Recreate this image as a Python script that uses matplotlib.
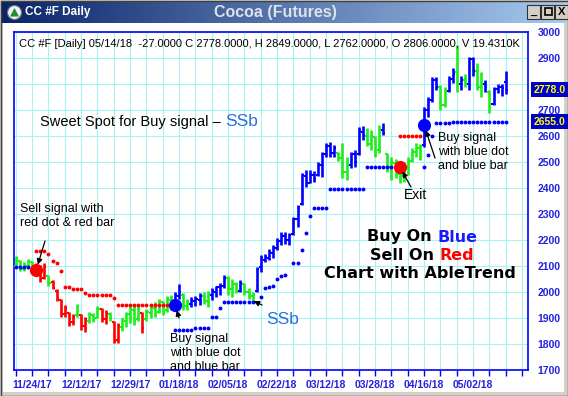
import numpy as np
import matplotlib.pyplot as plt
from matplotlib import transforms
from matplotlib.patches import Rectangle, Circle, Polygon

plt.rcParams['font.family'] = ['Liberation Sans', 'DejaVu Sans']

# daily bars, 11/17/17 .. 05/14/18 (one entry per trading day)
high = [2140, 2125, 2115, 2128, 2120, 2110, 2105, 2110, 2065, 2045,
        2010, 1975, 1950, 1925, 1915, 1955, 1915, 1905, 1925, 1920,
        1945, 1940, 1930, 1925, 1890, 1882, 1900, 1925, 1955, 1945,
        1950, 1925, 1935, 1950, 1960, 1975, 1965, 1985, 1990, 2000,
        2030, 1995, 1975, 1980, 1985, 1995, 2000, 2005, 2015, 2025,
        2035, 2065, 2060, 2050, 2040, 2045, 2035, 2015, 2000, 2097,
        2142, 2145, 2165, 2180, 2208, 2230, 2232, 2228, 2290, 2335,
        2457, 2469, 2469, 2465, 2500, 2540, 2572, 2578, 2565, 2540,
        2572, 2520, 2540, 2545, 2636, 2640, 2630, 2623, 2600, 2642,
        2650, 2535, 2520, 2510, 2500, 2495, 2520, 2555, 2573, 2570,
        2713, 2751, 2828, 2828, 2796, 2790, 2830, 2862, 2950, 2830,
        2840, 2905, 2905, 2880, 2847, 2815, 2777, 2790, 2800, 2800,
        2849]
low = [2095, 2080, 2082, 2090, 2085, 2065, 2040, 2050, 2025, 2010,
       1965, 1905, 1905, 1868, 1872, 1905, 1855, 1848, 1880, 1885,
       1900, 1885, 1878, 1890, 1805, 1805, 1850, 1865, 1880, 1875,
       1890, 1842, 1890, 1900, 1905, 1920, 1910, 1925, 1930, 1938,
       1975, 1930, 1930, 1944, 1945, 1950, 1955, 1944, 1970, 1980,
       1990, 2014, 1990, 1982, 1995, 2000, 1990, 1975, 1965, 2000,
       2078, 2115, 2125, 2130, 2160, 2180, 2185, 2182, 2220, 2251,
       2335, 2405, 2420, 2424, 2445, 2443, 2520, 2520, 2520, 2505,
       2437, 2431, 2476, 2480, 2527, 2585, 2560, 2546, 2520, 2535,
       2604, 2460, 2431, 2440, 2418, 2425, 2450, 2500, 2520, 2508,
       2559, 2674, 2732, 2777, 2700, 2710, 2770, 2804, 2770, 2777,
       2790, 2777, 2830, 2777, 2751, 2770, 2687, 2720, 2765, 2755,
       2762]
opn = [2100, 2120, 2090, 2100, 2115, 2100, 2080, 2055, 2060, 2040,
       2005, 1970, 1915, 1920, 1885, 1910, 1912, 1870, 1890, 1910,
       1900, 1935, 1895, 1915, 1885, 1815, 1865, 1890, 1915, 1930,
       1895, 1920, 1895, 1920, 1940, 1925, 1960, 1930, 1970, 1945,
       1985, 1990, 1945, 1955, 1965, 1970, 1985, 1965, 1990, 2000,
       2020, 2025, 2055, 2010, 2030, 2005, 2030, 2000, 1985, 2005,
       2095, 2125, 2130, 2150, 2170, 2195, 2215, 2200, 2225, 2280,
       2340, 2445, 2420, 2450, 2450, 2490, 2530, 2560, 2535, 2535,
       2515, 2460, 2490, 2530, 2530, 2615, 2600, 2570, 2595, 2545,
       2625, 2530, 2480, 2495, 2455, 2470, 2480, 2505, 2540, 2555,
       2565, 2700, 2740, 2815, 2790, 2720, 2775, 2820, 2845, 2800,
       2815, 2800, 2895, 2850, 2790, 2800, 2770, 2725, 2780, 2790,
       2806]
close = [2130, 2090, 2105, 2120, 2095, 2075, 2050, 2095, 2035, 2015,
         1975, 1915, 1940, 1880, 1905, 1945, 1870, 1895, 1915, 1895,
         1935, 1895, 1920, 1900, 1812, 1870, 1895, 1915, 1935, 1890,
         1940, 1860, 1925, 1945, 1915, 1965, 1925, 1975, 1945, 1990,
         2000, 1945, 1960, 1970, 1975, 1985, 1965, 1995, 2005, 2020,
         2025, 2055, 2010, 2030, 2005, 2035, 2000, 1985, 1990, 2090,
         2130, 2135, 2155, 2170, 2195, 2215, 2200, 2220, 2280, 2325,
         2450, 2420, 2450, 2435, 2490, 2530, 2560, 2535, 2555, 2515,
         2460, 2490, 2530, 2500, 2620, 2600, 2570, 2600, 2540, 2625,
         2610, 2480, 2500, 2455, 2470, 2480, 2505, 2540, 2555, 2560,
         2700, 2740, 2815, 2790, 2720, 2770, 2820, 2840, 2800, 2815,
         2800, 2895, 2850, 2790, 2800, 2790, 2710, 2780, 2790, 2784,
         2778]
# AbleTrend bar colour: B = up trend, R = down trend, G = neutral
trend = ("GGGGG" "RRRGR" "RRRRR" "GRRGG" "GRRGR" "RGGGG" "GRGGG" "GGGGB"
         "BGGBB" "BGGBB" "BBGGG" "BGGGB" "BBBBB" "BBBBB" "BBBBB" "BBBBG"
         "GGBBB" "BGGGG" "BGGGG" "GGGGG" "BBBBG" "GBBGB" "GBBGG" "BGBBB" "B")

# stop dots
blue_stop_idx = ([0, 1, 2, 3] + list(range(39, 59)) + list(range(60, 67))
                 + list(range(68, 94)) + list(range(100, 121)))
blue_stop_val = ([2097] * 4 + [1854] * 5 + [1862] * 4 + [1903, 1905, 1940] + [1962] * 8
                 + [1982, 2017, 2021, 2023, 2049, 2062, 2066]
                 + [2110, 2113, 2160, 2228, 2292] + [2322] * 4 + [2395] * 9 + [2482] * 8
                 + [2482, 2527, 2601] + [2650] * 4 + [2655] * 14)
red_stop_idx = list(range(5, 39)) + list(range(94, 100))
red_stop_val = ([2159] * 3 + [2146, 2119, 2113, 2082] + [2021] * 2 + [2012] * 3 + [1997]
                + [1988] * 6 + [1978] + [1950] * 14 + [2601] * 6)

sell_sig = (5, 2085)
buy_sig1 = (39, 1950)
exit_sig = (94, 2482)
buy_sig2 = (100, 2642)

tick_idx = list(range(0, 125, 4))
label_idx = [4, 16, 28, 40, 52, 64, 76, 88, 100, 112]
date_labels = ['11/24/17', '12/12/17', '12/29/17', '01/18/18', '02/05/18',
               '02/22/18', '03/12/18', '03/28/18', '04/16/18', '05/02/18']
price_ticks = list(range(1700, 3001, 100))

header = ('CC #F [Daily] 05/14/18  -27.0000 C 2778.0000, H 2849.0000, '
          'L 2762.0000, O 2806.0000, V 19.4310K')

BLUE = '#0000ff'
GREEN = '#1aef1a'
RED = '#ff0000'
cmap = {'B': BLUE, 'G': GREEN, 'R': RED}

W, H = 568, 396
fig = plt.figure(figsize=(W / 100, H / 100), dpi=100)
fig.patch.set_facecolor('#d4d0c8')

# window frame
bg = fig.add_axes([0, 0, 1, 1], zorder=0)
grad = np.linspace(0, 1, 256)[:, None]
left_c = np.array([10, 36, 106]) / 255
right_c = np.array([166, 202, 240]) / 255
img = (left_c * (1 - grad) + right_c * grad)[None, :, :]
bg.imshow(img, extent=(2, 566, 23, 2), aspect='auto')
bg.add_patch(Rectangle((3, 23), 561, 369, fc='white', ec='none'))
bg.add_patch(Rectangle((0.5, 0.5), W - 1, H - 1, fill=False, ec='#404040', lw=1))
bg.set_xlim(0, W)
bg.set_ylim(H, 0)
bg.axis('off')

bg.add_patch(Circle((14.5, 12.5), 7, fc='#f0f0f0', ec='#707070', lw=0.8))
bg.add_patch(Polygon([(10, 16.5), (14.5, 8), (19, 16.5)], fc='#1f8f3f', ec='none'))
bg.text(25, 12.5, 'CC #F Daily', color='white', fontsize=8.5, fontweight='bold', va='center')
bg.text(275, 12.5, 'Cocoa (Futures)', color='#dde2ea', fontsize=11.5, fontweight='bold',
        va='center', ha='center')
for bx, glyph in zip([527, 541, 555], ['_', '', 'X']):
    bg.add_patch(Rectangle((bx, 5), 13, 14, fc='#d4d0c8', ec='#303030', lw=0.8))
    if glyph:
        bg.text(bx + 6.5, 12, glyph, fontsize=8, fontweight='bold', ha='center', va='center')
bg.add_patch(Rectangle((544.5, 8), 7, 7, fill=False, ec='black', lw=1.2))

# price chart
ax = fig.add_axes([14 / W, (H - 370) / H, (528 - 14) / W, (370 - 32) / H], zorder=1)
x = np.arange(len(high))
cols = [cmap[c] for c in trend]
ax.vlines(x, low, high, colors=cols, lw=1.9, zorder=3)
ax.hlines(opn, x - 0.5, x, colors=cols, lw=1.5, zorder=3)
ax.hlines(close, x, x + 0.5, colors=cols, lw=1.5, zorder=3)
ax.plot(blue_stop_idx, blue_stop_val, 'o', color=BLUE, ms=2.8, mew=0, zorder=4)
ax.plot(red_stop_idx, red_stop_val, 'o', color=RED, ms=2.8, mew=0, zorder=4)
for (i, p), c in zip([sell_sig, buy_sig1, exit_sig, buy_sig2], [RED, BLUE, RED, BLUE]):
    ax.plot(i, p, 'o', color=c, ms=9.5, mew=0, zorder=5)

ax.set_xlim(-0.45, 125.45)
ax.set_ylim(1700, 3000)
ax.set_xticks(tick_idx)
ax.set_xticklabels([date_labels[label_idx.index(i)] if i in label_idx else '' for i in tick_idx])
ax.set_yticks(price_ticks)
# 2800 sits under the last-close marker box
ax.set_yticklabels(['' if p == 2800 else str(p) for p in price_ticks])
ax.yaxis.tick_right()
ax.tick_params(axis='y', length=0, pad=7, labelsize=7.5, labelcolor='#2222dd')
ax.tick_params(axis='x', length=4, width=1, color=BLUE, pad=3, labelsize=7.5,
               labelcolor='#2222dd')
for lab in ax.get_xticklabels() + ax.get_yticklabels():
    lab.set_fontweight('bold')
ax.grid(True, color='#aaf2f2', lw=0.8)
ax.set_axisbelow(True)
for s in ax.spines.values():
    s.set_color(BLUE)
    s.set_linewidth(1.2)

# overlay for texts
top = fig.add_axes([0, 0, 1, 1], zorder=2)
top.patch.set_alpha(0)
top.set_xlim(0, W)
top.set_ylim(H, 0)
top.axis('off')

top.text(19, 44, header, fontsize=8, va='center', ha='left')

blend = transforms.blended_transform_factory(top.transData, ax.transData)
for p in [close[-1], blue_stop_val[-1]]:
    top.add_patch(Rectangle((531, p - 29), 40, 58, transform=blend, fc='#0000cc', ec='none',
                            clip_on=False, zorder=5))
    top.text(534, p, f'{p:.1f}', transform=blend, color='#ffff00', fontsize=7.5,
             fontweight='bold', va='center', ha='left', zorder=6)

t1 = top.text(40, 122, 'Sweet Spot for Buy signal \u2013 ', fontsize=10.5, va='center')
top.annotate('SSb', xy=(1, 0.5), xycoords=t1, va='center', ha='left', fontsize=12.5,
             color='#2a6fdb')
top.text(20, 216, 'Sell signal with\nred dot & red bar', fontsize=9, va='center',
         linespacing=1.25)
top.text(170, 353, 'Buy signal\nwith blue dot\nand blue bar', fontsize=9, va='center',
         linespacing=1.2)
top.text(266, 320, 'SSb', fontsize=12.5, color='#2a6fdb', va='center')
top.text(404, 195, 'Exit', fontsize=10, va='center')
top.text(438, 152, 'Buy signal\nwith blue dot\nand blue bar', fontsize=9, va='center',
         linespacing=1.2)

big = dict(fontsize=11.5, fontweight='bold', family='DejaVu Sans', va='center')
b1 = top.text(367, 237, 'Buy On ', **big)
top.annotate('Blue', xy=(1, 0.5), xycoords=b1, ha='left', color='#1a1aff', **big)
b2 = top.text(370, 256, 'Sell On ', **big)
top.annotate('Red', xy=(1, 0.5), xycoords=b2, ha='left', color=RED, **big)
top.text(420, 274, 'Chart with AbleTrend', ha='center', **big)

arrow = dict(arrowstyle='-|>', color='black', lw=0.9, mutation_scale=8, shrinkA=0, shrinkB=4)
top.annotate('', xy=sell_sig, xycoords=ax.transData, xytext=(45, 241), textcoords='data',
             arrowprops=arrow)
top.annotate('', xy=buy_sig1, xycoords=ax.transData, xytext=(179, 318), textcoords='data',
             arrowprops=arrow)
top.annotate('', xy=(58.3, 1965), xycoords=ax.transData, xytext=(262, 305), textcoords='data',
             arrowprops=dict(arrow, shrinkB=0))
top.annotate('', xy=exit_sig, xycoords=ax.transData, xytext=(411, 187), textcoords='data',
             arrowprops=arrow)
top.annotate('', xy=buy_sig2, xycoords=ax.transData, xytext=(435, 158), textcoords='data',
             arrowprops=arrow)

fig.savefig('out.png', dpi=100)
